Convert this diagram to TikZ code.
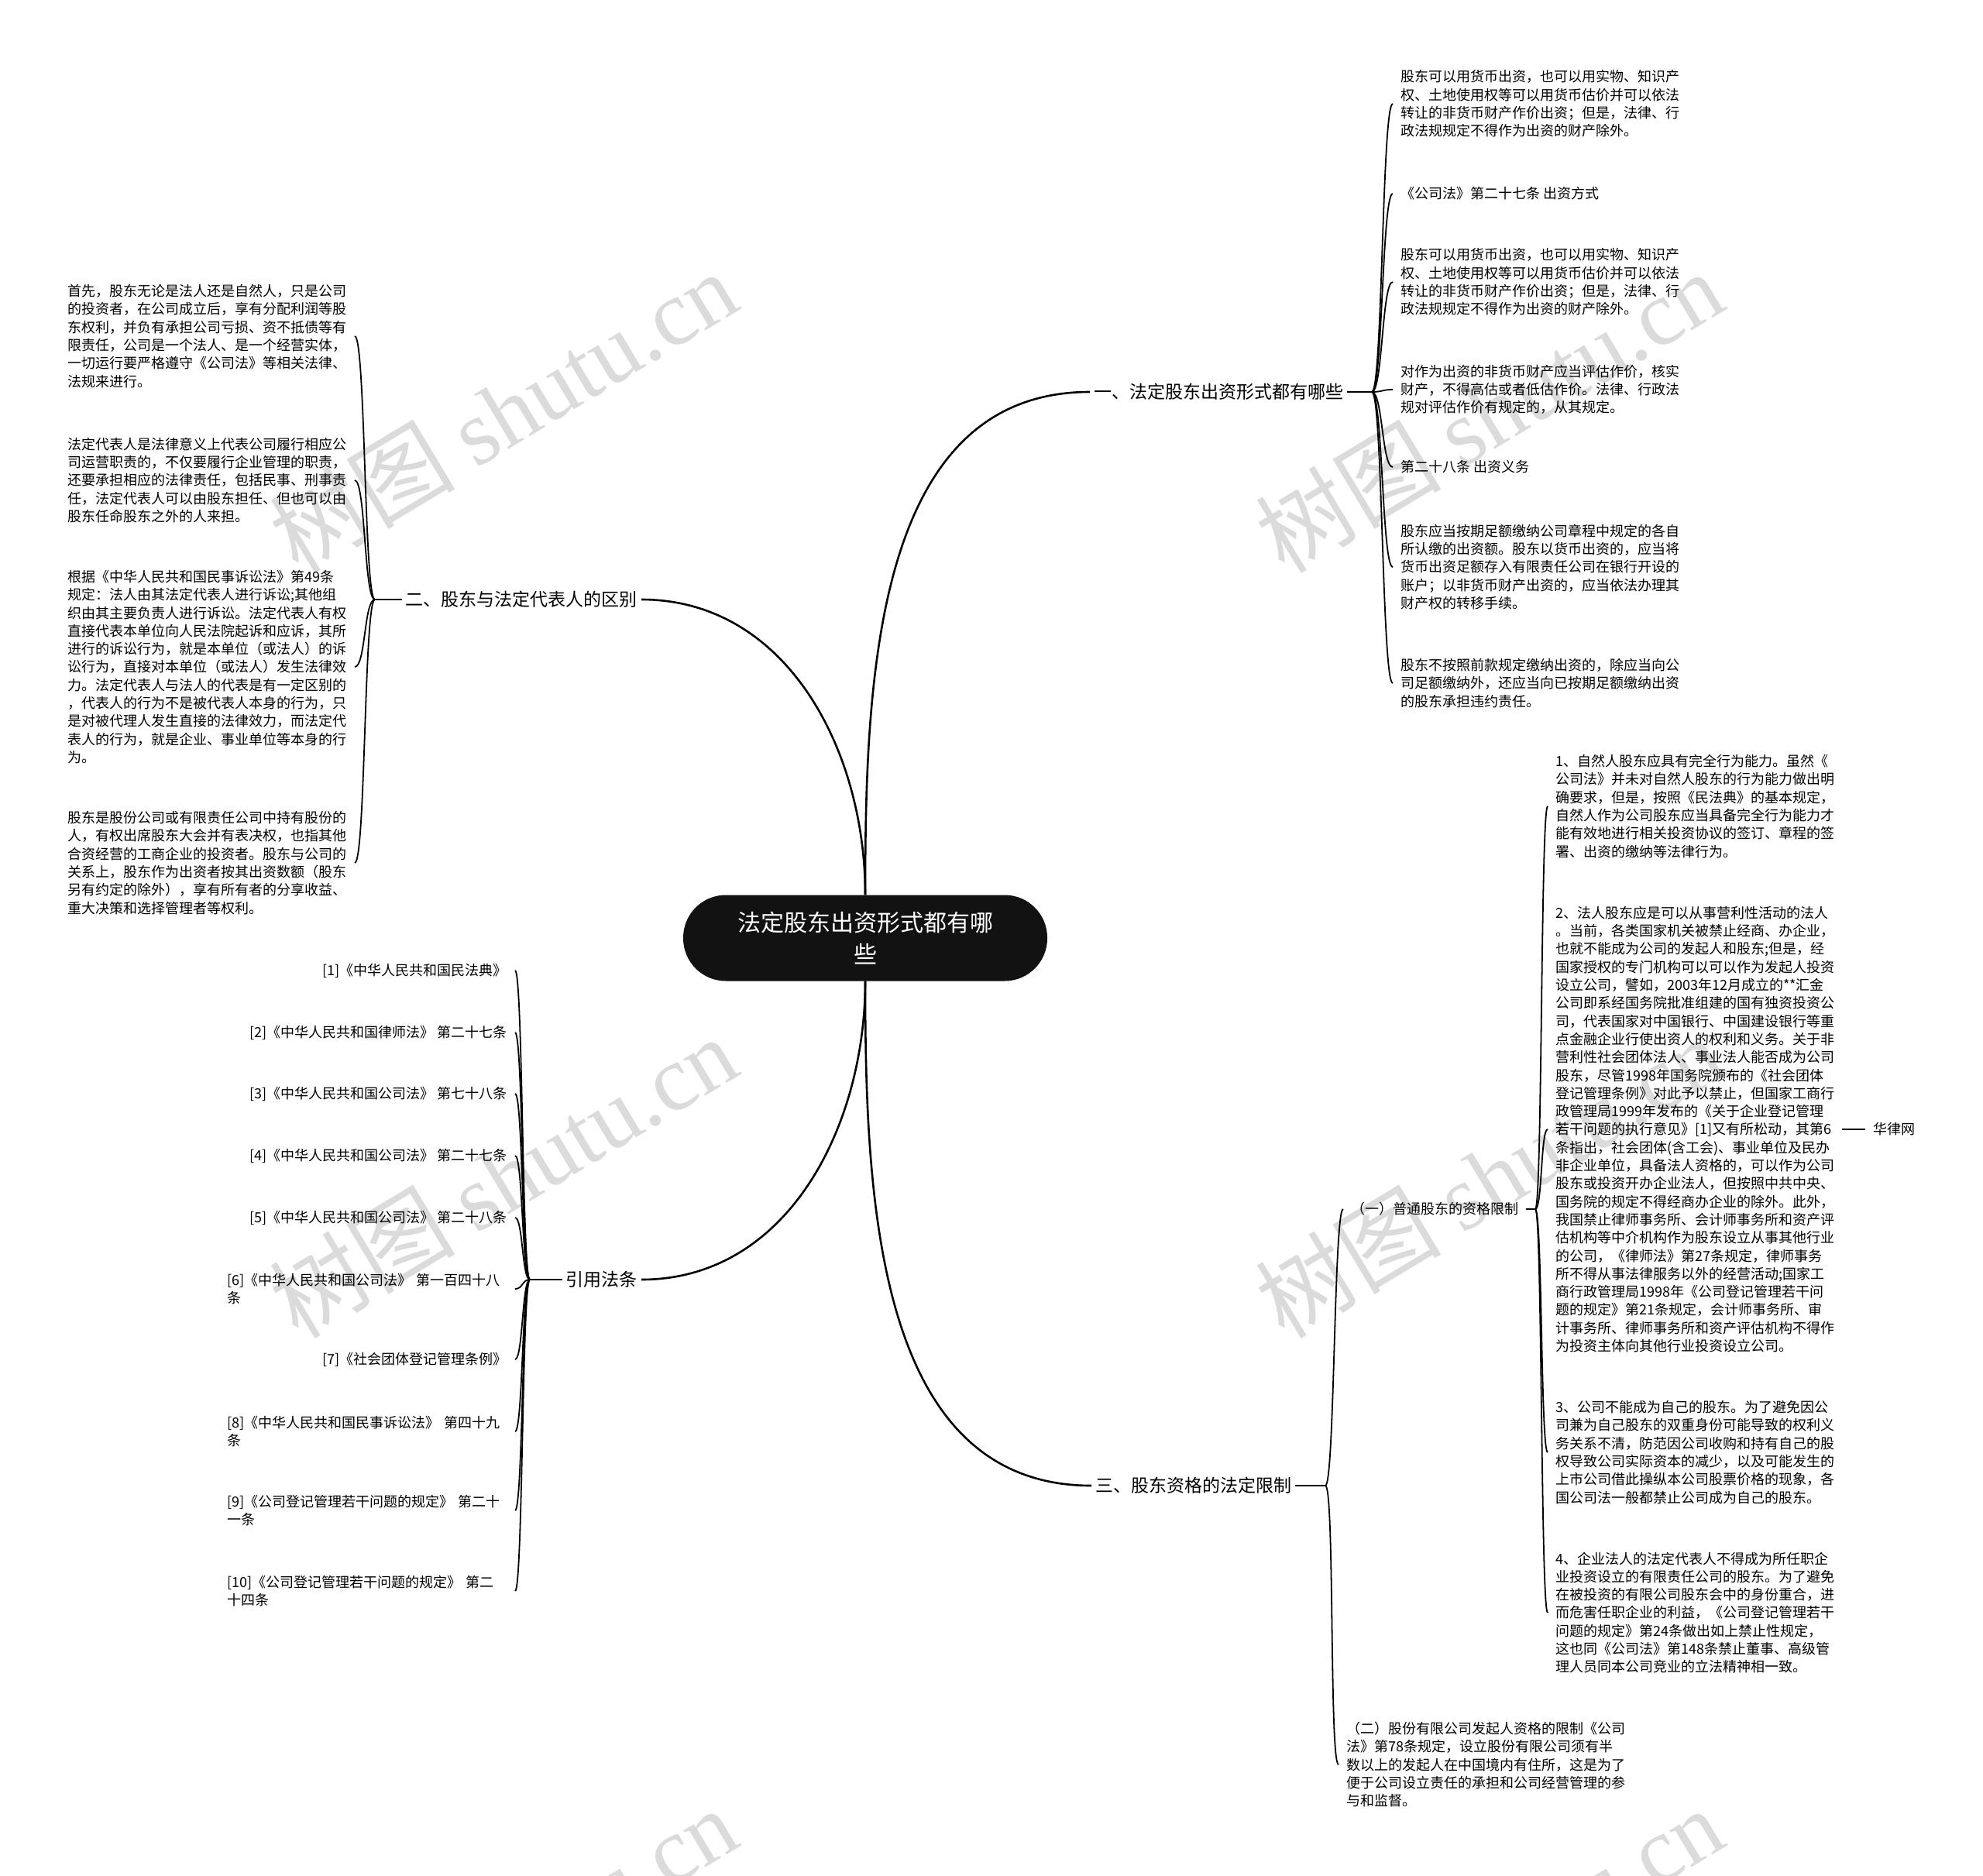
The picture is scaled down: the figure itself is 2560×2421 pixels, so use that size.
\documentclass[tikz,border=0pt]{standalone}
\usepackage{fontspec}
\setmainfont{Noto Sans CJK SC}
\newfontfamily\wmlatin{Liberation Serif}

\begin{document}
\begin{tikzpicture}[
    x=1pt, y=-1pt,
    % Root box
    rootbox/.style={
      rectangle, rounded corners=55pt, fill=black!93, text=white,
      minimum width=470pt, minimum height=111pt, align=center,
      font=\fontsize{30}{41}\selectfont
    },
    % Main branch labels
    branch/.style={inner xsep=5pt, inner ysep=2pt, font=\fontsize{23}{28}\selectfont},
    % Leaf texts
    leaf/.style={inner xsep=10pt, inner ysep=0pt, align=left, font=\fontsize{18}{23.3}\selectfont},
    wrapcite/.style={leaf, text width=361pt},
    % Connectors
    trunk/.style={line width=2.6pt},
    twig/.style={line width=1.8pt},
    % Watermark
    wmark/.style={text=black!14, font=\fontsize{120}{120}\selectfont, rotate=31}
  ]

  \fill[white] (0,0) rectangle (2560,2421);
  \useasboundingbox (0,0) rectangle (2560,2421);

  % ============ Watermarks ============
  \begin{scope}
    \clip (0,0) rectangle (2560,2421);
    \node[wmark] (wm1) at (649,531) {树图 {\wmlatin shutu.cn}};
    \node[wmark] (wm2) at (1922,531) {树图 {\wmlatin shutu.cn}};
    \node[wmark] (wm3) at (649,1519) {树图 {\wmlatin shutu.cn}};
    \node[wmark] (wm4) at (1922,1519) {树图 {\wmlatin shutu.cn}};
    \node[wmark] (wm5) at (649,2515) {树图 {\wmlatin shutu.cn}};
    \node[wmark] (wm6) at (1922,2515) {树图 {\wmlatin shutu.cn}};
  \end{scope}

  % ============ Root and main branches ============
  \node[rootbox] (root) at (1117,1211) {法定股东出资形式都有哪\\些};
  \node[branch, anchor=west] (br1) at (1407,506) {一、法定股东出资形式都有哪些};
  \node[branch, anchor=east] (br2) at (828,774) {二、股东与法定代表人的区别};
  \node[branch, anchor=east] (br4) at (828,1652) {引用法条};
  \node[branch, anchor=west] (br3) at (1409,1918) {三、股东资格的法定限制};

  \draw[trunk] (root.north) to[out=90, in=180] (br1.west);
  \draw[trunk] (root.north) to[out=90, in=0] (br2.east);
  \draw[trunk] (root.south) to[out=-90, in=0] (br4.east);
  \draw[trunk] (root.south) to[out=-90, in=180] (br3.west);

  % ============ Branch 1: forms of contribution ============
  \coordinate (o1) at (1771,506);
  \draw[twig] (br1.east) -- (o1);
  \node[leaf, anchor=west] (c1) at (1798,134)
    {股东可以用货币出资，也可以用实物、知识产\\权、土地使用权等可以用货币估价并可以依法\\转让的非货币财产作价出资；但是，法律、行\\政法规规定不得作为出资的财产除外。};
  \node[leaf, anchor=west] (c2) at (1798,250) {《公司法》第二十七条 出资方式};
  \node[leaf, anchor=west] (c3) at (1798,364)
    {股东可以用货币出资，也可以用实物、知识产\\权、土地使用权等可以用货币估价并可以依法\\转让的非货币财产作价出资；但是，法律、行\\政法规规定不得作为出资的财产除外。};
  \node[leaf, anchor=west] (c4) at (1798,503)
    {对作为出资的非货币财产应当评估作价，核实\\财产，不得高估或者低估作价。法律、行政法\\规对评估作价有规定的，从其规定。};
  \node[leaf, anchor=west] (c5) at (1798,603) {第二十八条 出资义务};
  \node[leaf, anchor=west] (c6) at (1798,732)
    {股东应当按期足额缴纳公司章程中规定的各自\\所认缴的出资额。股东以货币出资的，应当将\\货币出资足额存入有限责任公司在银行开设的\\账户；以非货币财产出资的，应当依法办理其\\财产权的转移手续。};
  \node[leaf, anchor=west] (c7) at (1798,882)
    {股东不按照前款规定缴纳出资的，除应当向公\\司足额缴纳外，还应当向已按期足额缴纳出资\\的股东承担违约责任。};
  \foreach \n in {c1,c2,c3,c4,c5,c6,c7}
    \draw[twig] (o1) .. controls +(14,0) and +(-14,0) .. (\n.west);

  % ============ Branch 2: shareholder vs. legal representative ============
  \coordinate (o2) at (484,774);
  \draw[twig] (br2.west) -- (o2);
  \node[leaf, anchor=east] (d1) at (458,434)
    {首先，股东无论是法人还是自然人，只是公司\\的投资者，在公司成立后，享有分配利润等股\\东权利，并负有承担公司亏损、资不抵债等有\\限责任，公司是一个法人、是一个经营实体，\\一切运行要严格遵守《公司法》等相关法律、\\法规来进行。};
  \node[leaf, anchor=east] (d2) at (458,620)
    {法定代表人是法律意义上代表公司履行相应公\\司运营职责的，不仅要履行企业管理的职责，\\还要承担相应的法律责任，包括民事、刑事责\\任，法定代表人可以由股东担任、但也可以由\\股东任命股东之外的人来担。};
  \node[leaf, anchor=east] (d3) at (458,861)
    {根据《中华人民共和国民事诉讼法》第49条\\规定：法人由其法定代表人进行诉讼;其他组\\织由其主要负责人进行诉讼。法定代表人有权\\直接代表本单位向人民法院起诉和应诉，其所\\进行的诉讼行为，就是本单位（或法人）的诉\\讼行为，直接对本单位（或法人）发生法律效\\力。法定代表人与法人的代表是有一定区别的\\，代表人的行为不是被代表人本身的行为，只\\是对被代理人发生直接的法律效力，而法定代\\表人的行为，就是企业、事业单位等本身的行\\为。};
  \node[leaf, anchor=east] (d4) at (458,1114)
    {股东是股份公司或有限责任公司中持有股份的\\人，有权出席股东大会并有表决权，也指其他\\合资经营的工商企业的投资者。股东与公司的\\关系上，股东作为出资者按其出资数额（股东\\另有约定的除外），享有所有者的分享收益、\\重大决策和选择管理者等权利。};
  \foreach \n in {d1,d2,d3,d4}
    \draw[twig] (o2) .. controls +(-14,0) and +(14,0) .. (\n.east);

  % ============ Cited laws ============
  \coordinate (o4) at (684,1652);
  \draw[twig] (br4.west) -- (o4);
  \node[leaf, anchor=east] (r1) at (665,1253) {[1]《中华人民共和国民法典》};
  \node[leaf, anchor=east] (r2) at (665,1333) {[2]《中华人民共和国律师法》 第二十七条};
  \node[leaf, anchor=east] (r3) at (665,1412) {[3]《中华人民共和国公司法》 第七十八条};
  \node[leaf, anchor=east] (r4) at (665,1492) {[4]《中华人民共和国公司法》 第二十七条};
  \node[leaf, anchor=east] (r5) at (665,1572) {[5]《中华人民共和国公司法》 第二十八条};
  \node[wrapcite, anchor=east] (r6) at (665,1664) {[6]《中华人民共和国公司法》 第一百四十八\\条};
  \node[leaf, anchor=east] (r7) at (665,1755) {[7]《社会团体登记管理条例》};
  \node[wrapcite, anchor=east] (r8) at (665,1848) {[8]《中华人民共和国民事诉讼法》 第四十九\\条};
  \node[wrapcite, anchor=east] (r9) at (665,1950) {[9]《公司登记管理若干问题的规定》 第二十\\一条};
  \node[wrapcite, anchor=east] (r10) at (665,2054) {[10]《公司登记管理若干问题的规定》 第二\\十四条};
  \foreach \n in {r1,r2,r3,r4,r5,r6,r7,r8,r9,r10}
    \draw[twig] (o4) .. controls +(-10,0) and +(10,0) .. (\n.east);

  % ============ Branch 3: legal limits ============
  \coordinate (o3) at (1711,1918);
  \draw[twig] (br3.east) -- (o3);
  \node[leaf, anchor=west] (qa) at (1734,1561) {（一）普通股东的资格限制};
  \node[leaf, anchor=west] (qb) at (1728,2278)
    {（二）股份有限公司发起人资格的限制《公司\\法》第78条规定，设立股份有限公司须有半\\数以上的发起人在中国境内有住所，这是为了\\便于公司设立责任的承担和公司经营管理的参\\与和监督。};
  \foreach \n in {qa,qb}
    \draw[twig] (o3) .. controls +(12,0) and +(-12,0) .. (\n.west);

  \coordinate (oa) at (1982,1561);
  \draw[twig] (qa.east) -- (oa);
  \node[leaf, anchor=west] (a1) at (1998,1041)
    {1、自然人股东应具有完全行为能力。虽然《\\公司法》并未对自然人股东的行为能力做出明\\确要求，但是，按照《民法典》的基本规定，\\自然人作为公司股东应当具备完全行为能力才\\能有效地进行相关投资协议的签订、章程的签\\署、出资的缴纳等法律行为。};
  \node[leaf, anchor=west] (a2) at (1998,1458)
    {2、法人股东应是可以从事营利性活动的法人\\。当前，各类国家机关被禁止经商、办企业，\\也就不能成为公司的发起人和股东;但是，经\\国家授权的专门机构可以可以作为发起人投资\\设立公司，譬如，2003年12月成立的**汇金\\公司即系经国务院批准组建的国有独资投资公\\司，代表国家对中国银行、中国建设银行等重\\点金融企业行使出资人的权利和义务。关于非\\营利性社会团体法人、事业法人能否成为公司\\股东，尽管1998年国务院颁布的《社会团体\\登记管理条例》对此予以禁止，但国家工商行\\政管理局1999年发布的《关于企业登记管理\\若干问题的执行意见》[1]又有所松动，其第6\\条指出，社会团体(含工会)、事业单位及民办\\非企业单位，具备法人资格的，可以作为公司\\股东或投资开办企业法人，但按照中共中央、\\国务院的规定不得经商办企业的除外。此外，\\我国禁止律师事务所、会计师事务所和资产评\\估机构等中介机构作为股东设立从事其他行业\\的公司，《律师法》第27条规定，律师事务\\所不得从事法律服务以外的经营活动;国家工\\商行政管理局1998年《公司登记管理若干问\\题的规定》第21条规定，会计师事务所、审\\计事务所、律师事务所和资产评估机构不得作\\为投资主体向其他行业投资设立公司。};
  \node[leaf, anchor=west] (a3) at (1998,1875)
    {3、公司不能成为自己的股东。为了避免因公\\司兼为自己股东的双重身份可能导致的权利义\\务关系不清，防范因公司收购和持有自己的股\\权导致公司实际资本的减少，以及可能发生的\\上市公司借此操纵本公司股票价格的现象，各\\国公司法一般都禁止公司成为自己的股东。};
  \node[leaf, anchor=west] (a4) at (1998,2082)
    {4、企业法人的法定代表人不得成为所任职企\\业投资设立的有限责任公司的股东。为了避免\\在被投资的有限公司股东会中的身份重合，进\\而危害任职企业的利益，《公司登记管理若干\\问题的规定》第24条做出如上禁止性规定，\\这也同《公司法》第148条禁止董事、高级管\\理人员同本公司竞业的立法精神相一致。};
  \foreach \n in {a1,a2,a3,a4}
    \draw[twig] (oa) .. controls +(9,0) and +(-9,0) .. (\n.west);

  \node[leaf, anchor=west] (hl) at (2408,1458) {华律网};
  \draw[twig] (a2.east) -- (hl.west);

\end{tikzpicture}
\end{document}
